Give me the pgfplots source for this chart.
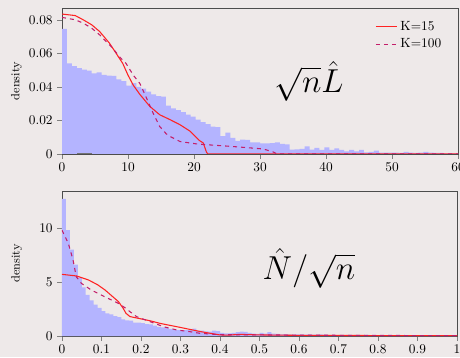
\documentclass[border=0pt]{standalone}
\usepackage{pgfplots}
\pgfplotsset{compat=1.18}
\definecolor{bgc}{RGB}{238,233,233}
\definecolor{histc}{RGB}{180,180,255}
\definecolor{redA}{RGB}{255,35,35}
\definecolor{redB}{RGB}{195,30,105}
\pgfplotsset{myaxis/.style={scale only axis, tick align=outside, tick pos=left,
  major tick length=3.5pt, axis line style={black!70}, xmin=0, ymin=0,
  ylabel=density, ylabel style={font=\small, at={(axis description cs:-0.115,0.5)}, anchor=center},
  legend style={draw=none, fill=none, at={(axis description cs:0.975,0.945)}, anchor=north east, cells={anchor=west}, row sep=0.5pt}}}
\begin{document}
\begin{tikzpicture}[x=1pt,y=1pt]
\fill[bgc] (0,0) rectangle (345,267.75);
\useasboundingbox (0,0) rectangle (345,267.75);
\begin{axis}[myaxis, at={(46.5pt,152.25pt)}, anchor=south west, width=297pt, height=109.5pt,
  xmax=60, ymax=0.087, xtick={0,10,20,30,40,50,60}, ytick={0,0.02,0.04,0.06,0.08},
  scaled y ticks=false, yticklabel style={/pgf/number format/fixed,/pgf/number format/precision=2}]
\addlegendimage{legend image code/.code={\draw[draw=redA, line width=0.9pt] (0pt,0.3pt) -- (16pt,0.3pt);}}
\addlegendentry{K=15}
\addlegendimage{legend image code/.code={\draw[draw=redB, dashed, line width=0.8pt] (0pt,0pt) -- (16pt,0pt);}}
\addlegendentry{K=100}
\addplot[fill=histc, draw=none, const plot mark left, forget plot] coordinates {
(0,0.0745)(0.75,0.0540)(1.5,0.0523)(2.25,0.0512)(3,0.0503)(3.75,0.0497)(4.5,0.0480)(5.25,0.0487)
(6,0.0472)(6.75,0.0467)(7.5,0.0465)(8.25,0.0445)(9,0.0435)(9.75,0.0408)(10.5,0.0423)(11.25,0.0400)
(12,0.0390)(12.75,0.0372)(13.5,0.0355)(14.25,0.0345)(15,0.0342)(15.75,0.0288)(16.5,0.0272)(17.25,0.0262)
(18,0.0250)(18.75,0.0235)(19.5,0.0222)(20.25,0.0205)(21,0.0190)(21.75,0.0178)(22.5,0.0163)(23.25,0.0160)
(24,0.0107)(24.75,0.0128)(25.5,0.0096)(26.25,0.0078)(27,0.0085)(27.75,0.0084)(28.5,0.0070)(29.25,0.0070)
(30,0.0063)(30.75,0.0063)(31.5,0.0065)(32.25,0.0070)(33,0.0060)(33.75,0.0058)(34.5,0.0026)(35.25,0.0028)
(36,0.0030)(36.75,0.0045)(37.5,0.0026)(38.25,0.0036)(39,0.0024)(39.75,0.0040)(40.5,0.0024)(41.25,0.0034)
(42,0.0024)(42.75,0.0016)(43.5,0.0024)(44.25,0.0016)(45,0.0024)(45.75,0.0010)(46.5,0.0012)(47.25,0.0020)
(48,0.0008)(48.75,0.0008)(49.5,0.0008)(50.25,0.0008)(51,0.0006)(51.75,0.0012)(52.5,0.0008)(53.25,0.0006)
(54,0.0008)(54.75,0.0012)(55.5,0.0008)(56.25,0.0006)(57,0.0006)(57.75,0.0004)(58.5,0.0004)(59.25,0.0004)(60,0.0004)} \closedcycle;
\addplot[color=redA, line width=0.8pt, forget plot] coordinates {
(0,0.0834)(2,0.0825)(3.2,0.080)(4.5,0.077)(5.7,0.073)(7.2,0.066)(8.2,0.060)(9.2,0.054)(10,0.047)
(10.8,0.041)(11.8,0.0355)(13.3,0.0284)(14.8,0.0234)(16.4,0.0204)(17.9,0.0174)(19.4,0.0136)(20.3,0.010)
(20.9,0.0078)(21.4,0.0066)(21.9,0.001)(22.1,0)(60,0)};
\addplot[color=redB, dashed, line width=0.8pt, forget plot] coordinates {
(0,0.0814)(2,0.080)(3.2,0.078)(4.5,0.075)(5.7,0.071)(7.7,0.063)(8.7,0.058)(9.7,0.054)(10.8,0.047)
(11.8,0.042)(12.8,0.0334)(13.8,0.0244)(14.8,0.0164)(15.8,0.012)(16.4,0.0104)(17.9,0.0074)(20.4,0.006)
(22.4,0.0054)(25.4,0.0046)(28,0.0038)(30.5,0.003)(32,0.0012)(32.6,0)(60,0)};
\addplot[black!55, line width=1pt, forget plot] coordinates {(2.3,0)(4.5,0)};
\end{axis}
\begin{axis}[myaxis, at={(46.5pt,15.75pt)}, anchor=south west, width=296.25pt, height=108.75pt,
  xmax=1, ymax=13.43, xtick={0,0.1,0.2,0.3,0.4,0.5,0.6,0.7,0.8,0.9,1}, ytick={0,5,10}]
\addplot[fill=histc, draw=none, const plot mark left, forget plot] coordinates {
(0.00,12.7)(0.01,9.8)(0.02,8.0)(0.03,6.6)(0.04,5.4)(0.05,4.5)(0.06,3.8)(0.07,3.3)(0.08,2.9)(0.09,2.6)
(0.10,2.3)(0.11,2.1)(0.12,2.0)(0.13,1.85)(0.14,1.75)(0.15,1.55)(0.16,1.45)(0.17,1.42)(0.18,1.25)(0.19,1.23)
(0.20,1.2)(0.21,1.1)(0.22,1.08)(0.23,0.95)(0.24,0.85)(0.25,0.8)(0.26,0.8)(0.27,0.65)(0.28,0.6)(0.29,0.55)
(0.30,0.55)(0.31,0.55)(0.32,0.55)(0.33,0.68)(0.34,0.5)(0.35,0.5)(0.36,0.42)(0.37,0.4)(0.38,0.5)(0.39,0.45)
(0.40,0.28)(0.41,0.25)(0.42,0.25)(0.43,0.3)(0.44,0.35)(0.45,0.4)(0.46,0.38)(0.47,0.3)(0.48,0.22)(0.49,0.2)
(0.50,0.3)(0.51,0.22)(0.52,0.35)(0.53,0.22)(0.54,0.2)(0.55,0.15)(0.56,0.18)(0.57,0.15)(0.58,0.12)(0.59,0.15)
(0.60,0.15)(0.61,0.12)(0.62,0.15)(0.63,0.12)(0.64,0.12)(0.65,0.15)(0.66,0.12)(0.67,0.1)(0.68,0.1)(0.69,0.08)
(0.70,0.1)(0.71,0.08)(0.72,0.1)(0.73,0.08)(0.74,0.1)(0.75,0.08)(0.76,0.08)(0.77,0.1)(0.78,0.08)(0.79,0.08)
(0.80,0.06)(0.81,0.05)(0.82,0.06)(0.83,0.04)(0.84,0.06)(0.85,0.05)(0.86,0.04)(0.87,0.06)(0.88,0.04)(0.89,0.05)
(0.90,0.04)(0.91,0.05)(0.92,0.04)(0.93,0.04)(0.94,0.05)(0.95,0.04)(0.96,0.04)(0.97,0.03)(0.98,0.04)(0.99,0.03)(1.0,0.03)} \closedcycle;
\addplot[color=redA, line width=0.8pt] coordinates {
(0,5.71)(0.037,5.56)(0.067,5.19)(0.09,4.75)(0.109,4.26)(0.125,3.75)(0.143,3.18)(0.155,2.56)(0.162,2.1)
(0.172,1.8)(0.198,1.6)(0.222,1.42)(0.248,1.17)(0.299,0.8)(0.349,0.42)(0.375,0.25)(0.40,0.1)(0.42,0.08)
(0.45,0.15)(0.5,0.1)(0.6,0.06)(0.8,0.04)(1,0.03)};
\addplot[color=redB, dashed, line width=0.8pt] coordinates {
(0,9.8)(0.016,8.58)(0.028,7.04)(0.036,5.5)(0.049,4.88)(0.074,4.26)(0.108,3.64)(0.143,3.02)(0.16,2.6)
(0.172,2.25)(0.189,1.79)(0.223,1.33)(0.257,0.86)(0.29,0.56)(0.324,0.4)(0.349,0.25)(0.4,0.12)(0.5,0.1)
(0.6,0.08)(0.8,0.05)(1,0.03)};
\end{axis}
\node at (231.75,207) {\fontsize{23}{28}\selectfont$\sqrt{n}\hat{L}$};
\node at (231.75,66.75) {\fontsize{24}{29}\selectfont$\hat{N}/\sqrt{n}$};
\end{tikzpicture}
\end{document}
